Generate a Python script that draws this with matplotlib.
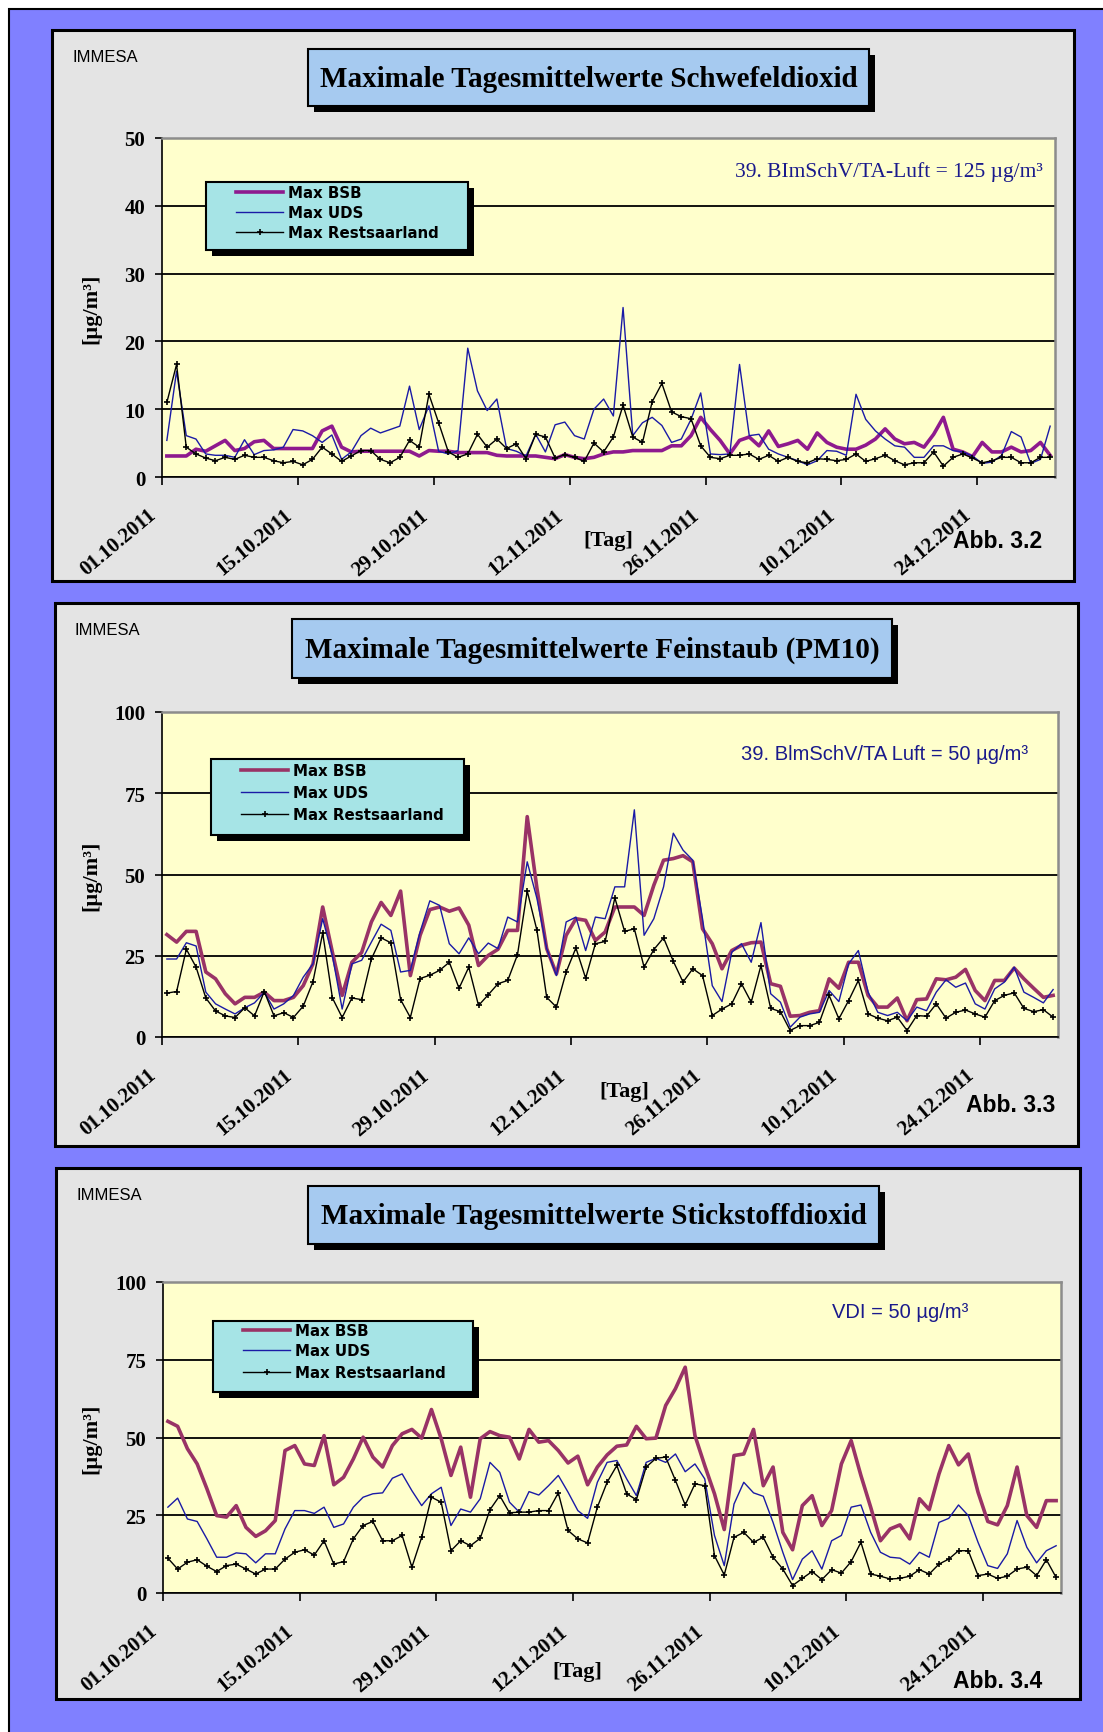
import numpy as np
import matplotlib
matplotlib.use("Agg")
import matplotlib.pyplot as plt
from matplotlib.patches import Rectangle
from matplotlib.lines import Line2D
from matplotlib.font_manager import FontProperties
from matplotlib.transforms import ScaledTranslation

W, H = 1103, 1733

# one value per day, 01.10.2011 - 31.12.2011, labels every 14 days
date_labels = ["01.10.2011", "15.10.2011", "29.10.2011", "12.11.2011",
               "26.11.2011", "10.12.2011", "24.12.2011"]
series_names = ["Max BSB", "Max UDS", "Max Restsaarland"]
days = np.arange(92)

so2_bsb = [3.1, 3.1, 3.1, 4.1, 3.8, 4.6, 5.4, 3.9, 4.2, 5.2,
           5.4, 4.2, 4.2, 4.2, 4.2, 4.2, 6.8, 7.5, 4.4, 3.7,
           3.8, 3.8, 3.8, 3.8, 3.8, 3.8, 3.1, 3.9, 3.8, 3.8,
           3.6, 3.6, 3.6, 3.6, 3.2, 3.1, 3.1, 3.1, 3.1, 2.9,
           2.7, 3.3, 2.9, 2.7, 2.9, 3.4, 3.7, 3.7, 3.9, 3.9,
           3.9, 3.9, 4.6, 4.6, 6.1, 8.8, 7.0, 5.4, 3.4, 5.4,
           5.9, 4.6, 6.8, 4.5, 4.9, 5.4, 4.1, 6.5, 5.1, 4.4,
           4.1, 4.1, 4.7, 5.6, 7.1, 5.6, 4.9, 5.1, 4.4, 6.3,
           8.8, 4.1, 3.7, 3.0, 5.1, 3.7, 3.7, 4.4, 3.7, 3.9,
           5.1, 3.2]
so2_uds = [5.4, 15.6, 6.1, 5.6, 3.4, 3.2, 3.2, 2.9, 5.5, 3.3,
           3.9, 4.0, 4.4, 7.0, 6.8, 6.1, 5.1, 6.2, 2.6, 3.7,
           6.1, 7.2, 6.5, 7.0, 7.5, 13.4, 7.0, 10.5, 3.8, 3.4,
           3.9, 19.0, 12.7, 9.8, 11.5, 4.2, 3.8, 3.1, 6.3, 3.7,
           7.7, 8.1, 6.1, 5.6, 10.0, 11.5, 9.0, 25.0, 6.1, 8.0,
           8.8, 7.6, 5.1, 5.6, 8.5, 12.4, 3.4, 3.3, 3.4, 16.6,
           6.1, 6.3, 4.1, 3.4, 2.9, 2.4, 1.8, 2.4, 3.9, 3.8,
           3.2, 12.2, 8.5, 6.8, 5.6, 4.6, 4.4, 2.9, 2.9, 4.6,
           4.6, 3.9, 3.7, 3.1, 2.0, 2.2, 3.2, 6.7, 5.9, 2.0,
           2.6, 7.5]
so2_rest = [11.0, 16.6, 4.4, 3.4, 2.8, 2.4, 2.9, 2.6, 3.2, 2.9,
            2.9, 2.4, 2.1, 2.3, 1.8, 2.6, 4.4, 3.4, 2.3, 3.1,
            3.9, 3.9, 2.6, 2.1, 2.9, 5.4, 4.4, 12.2, 8.0, 3.7,
            2.9, 3.4, 6.3, 4.4, 5.6, 4.2, 4.9, 2.7, 6.3, 5.9,
            2.8, 3.3, 2.9, 2.3, 5.0, 3.7, 5.9, 10.6, 5.9, 5.1,
            11.1, 13.8, 9.6, 8.9, 8.6, 4.6, 2.9, 2.7, 3.2, 3.2,
            3.4, 2.6, 3.2, 2.3, 2.9, 2.3, 2.1, 2.7, 2.6, 2.4,
            2.6, 3.4, 2.3, 2.7, 3.2, 2.4, 1.8, 2.1, 2.1, 3.7,
            1.6, 2.9, 3.4, 2.8, 2.1, 2.4, 2.9, 2.9, 2.1, 2.1,
            2.9, 2.9]

pm10_bsb = [31.5, 29.2, 32.5, 32.5, 20.0, 17.9, 13.3, 10.2, 12.2, 12.2,
            13.8, 11.2, 11.2, 12.2, 15.8, 22.5, 40.0, 26.0, 12.8, 23.0,
            26.0, 35.4, 41.4, 37.4, 44.9, 18.9, 31.3, 39.2, 40.0, 38.7,
            39.7, 34.4, 22.0, 25.1, 27.0, 32.8, 32.8, 67.8, 45.7, 27.2,
            19.4, 31.3, 36.4, 35.9, 29.7, 32.3, 40.0, 40.0, 40.0, 37.4,
            46.7, 54.4, 54.9, 55.8, 53.9, 33.3, 28.7, 21.0, 26.6, 28.2,
            29.0, 29.2, 16.4, 15.6, 6.4, 6.6, 7.6, 8.1, 17.9, 15.0,
            23.0, 23.0, 12.8, 9.2, 9.2, 12.0, 5.0, 11.5, 11.7, 17.9,
            17.6, 18.4, 20.8, 14.3, 11.2, 17.4, 17.4, 21.2, 17.9, 15.0,
            12.2, 12.8]
pm10_uds = [24.0, 24.0, 29.0, 28.0, 13.8, 10.2, 8.6, 7.1, 9.0, 10.5,
            13.8, 8.6, 10.2, 12.8, 18.4, 22.5, 36.4, 25.0, 8.6, 22.5,
            23.6, 29.2, 34.7, 32.8, 20.0, 20.5, 32.3, 41.9, 40.5, 28.7,
            25.6, 30.5, 25.6, 28.9, 27.2, 36.9, 35.4, 53.9, 42.6, 27.2,
            18.9, 35.4, 36.9, 26.6, 36.9, 36.4, 46.2, 46.2, 69.9, 31.3,
            36.4, 46.2, 62.7, 57.5, 54.4, 36.4, 15.8, 10.9, 26.1, 28.7,
            23.0, 35.2, 13.3, 10.7, 3.0, 6.1, 7.1, 7.6, 14.3, 10.9,
            22.5, 26.6, 13.8, 7.6, 6.6, 7.6, 5.0, 9.2, 8.1, 13.8,
            17.6, 15.3, 16.6, 10.2, 8.6, 14.8, 16.9, 21.5, 13.8, 12.2,
            10.5, 14.6]
pm10_rest = [13.5, 14.0, 27.0, 21.5, 12.0, 8.0, 6.5, 6.0, 9.0, 6.5,
             14.0, 6.5, 7.5, 6.0, 9.5, 17.0, 32.0, 12.0, 6.0, 12.0,
             11.5, 24.0, 30.5, 29.0, 11.5, 6.0, 18.0, 19.0, 20.5, 23.0,
             15.0, 21.5, 9.7, 13.0, 16.4, 17.4, 25.3, 44.9, 32.8, 12.2,
             9.2, 20.0, 27.4, 18.1, 28.7, 29.4, 42.8, 32.5, 33.3, 21.5,
             26.9, 30.5, 23.3, 16.9, 21.0, 18.9, 6.6, 8.6, 10.2, 16.4,
             10.7, 22.0, 8.8, 7.8, 2.0, 3.5, 3.5, 4.5, 12.8, 5.6,
             11.2, 17.4, 7.1, 5.8, 5.0, 6.1, 2.0, 6.6, 6.4, 10.2,
             5.8, 7.6, 8.3, 7.1, 6.1, 11.2, 12.8, 13.6, 8.8, 7.8,
             8.4, 6.1]

no2_bsb = [55.2, 53.6, 46.4, 41.5, 33.5, 24.9, 24.4, 28.1, 21.1, 18.2,
           20.0, 23.3, 45.8, 47.4, 41.5, 41.0, 50.6, 34.8, 37.2, 43.1,
           50.1, 43.7, 40.5, 47.4, 51.2, 52.6, 49.8, 59.0, 49.6, 37.8,
           46.9, 30.8, 49.6, 51.9, 50.6, 50.1, 43.1, 52.6, 48.5, 49.0,
           45.8, 41.8, 44.0, 34.8, 40.5, 44.4, 47.2, 47.6, 53.6, 49.6,
           49.8, 60.3, 65.7, 72.6, 50.6, 41.0, 31.9, 20.4, 44.2, 44.7,
           52.6, 34.5, 40.5, 19.5, 13.9, 28.1, 31.3, 21.7, 26.5, 41.5,
           49.0, 37.8, 27.6, 16.8, 20.6, 21.9, 17.4, 30.3, 26.8, 38.3,
           47.4, 41.2, 44.7, 32.4, 23.0, 21.9, 28.1, 40.5, 24.9, 21.1,
           29.7, 29.7]
no2_uds = [27.6, 30.5, 23.8, 23.0, 17.4, 11.5, 11.5, 12.9, 12.6, 9.7,
           12.6, 12.6, 20.6, 26.5, 26.5, 25.6, 27.6, 21.1, 22.2, 27.6,
           30.8, 31.9, 32.2, 36.9, 38.3, 32.9, 28.1, 31.9, 34.0, 21.7,
           27.0, 26.0, 30.3, 42.0, 38.8, 29.2, 26.0, 32.6, 31.5, 34.5,
           37.8, 32.4, 26.5, 24.0, 35.6, 42.0, 42.6, 36.7, 31.3, 42.0,
           43.3, 42.0, 44.7, 39.0, 41.5, 36.7, 18.5, 8.8, 28.6, 35.6,
           32.2, 31.1, 22.7, 13.1, 4.3, 10.9, 13.6, 7.7, 16.8, 18.5,
           27.6, 28.3, 19.5, 13.1, 11.5, 11.2, 9.3, 13.1, 11.5, 22.7,
           24.0, 28.3, 24.9, 16.3, 8.8, 7.9, 12.6, 23.3, 14.7, 9.7,
           13.6, 15.2]
no2_rest = [11.2, 7.7, 9.9, 10.7, 8.6, 6.9, 8.8, 9.3, 7.7, 6.1,
            7.7, 7.7, 10.9, 13.1, 13.9, 12.2, 16.8, 9.3, 10.1, 17.4,
            21.7, 23.0, 16.8, 16.8, 18.5, 8.3, 17.9, 30.8, 29.2, 13.6,
            16.8, 15.2, 17.6, 26.8, 31.3, 25.8, 26.0, 26.0, 26.5, 26.5,
            32.2, 20.1, 17.4, 16.1, 27.6, 35.6, 41.0, 31.9, 30.0, 40.5,
            43.3, 43.7, 36.2, 28.3, 35.1, 34.5, 12.0, 5.8, 17.9, 19.5,
            16.3, 17.9, 11.5, 7.7, 2.4, 4.7, 6.9, 4.3, 7.5, 6.4,
            10.1, 16.3, 6.1, 5.4, 4.5, 4.7, 5.4, 7.5, 6.1, 9.3,
            10.9, 13.6, 13.6, 5.6, 6.1, 4.7, 5.4, 7.7, 8.3, 5.6,
            10.7, 5.0]

SERIF = ["Liberation Serif", "DejaVu Serif"]
SANS = ["Liberation Sans", "DejaVu Sans"]
NOTE_BLUE = "#1a1a8c"

fig = plt.figure(figsize=(W / 100, H / 100), dpi=100)
fig.patch.set_facecolor("white")

# background axes in pixel coordinates (y downwards)
bg = fig.add_axes([0, 0, 1, 1], zorder=0)
bg.set_xlim(0, W)
bg.set_ylim(H, 0)
bg.axis("off")
bg.add_patch(Rectangle((9, 10), W, H, fc="#8080ff", ec="black", lw=1.5))


def shadow_box(x0, y0, x1, y1, fc, z):
    for r in [Rectangle((x0 + 6, y0 + 6), x1 - x0, y1 - y0, fc="black", lw=0),
              Rectangle((x0, y0), x1 - x0, y1 - y0, fc=fc, ec="black", lw=1.5)]:
        r.set_transform(bg.transData)
        r.set_zorder(z)
        fig.add_artist(r)


def chart(panel, area, title_box, title, bsb, uds, rest, bsb_color, ymax, ystep,
          note, note_xy, note_font, legend_box, legend_rows, tag_xy, abb, abb_xy):
    x0, y0, x1, y1 = panel
    bg.add_patch(Rectangle((x0, y0), x1 - x0, y1 - y0, fc="#e4e4e4", ec="black", lw=2.2))

    # title box with shadow
    tx0, ty0, tx1, ty1 = title_box
    shadow_box(tx0, ty0, tx1, ty1, "#a6caf0", 0.5)
    fig.text((tx0 + tx1) / 2, (ty0 + ty1) / 2 + 1, title, transform=bg.transData,
             ha="center", va="center", family=SERIF, weight="bold", size=21, zorder=0.6)
    bg.text(x0 + 20, y0 + 26, "IMMESA", ha="left", va="center", family=SANS, size=12)

    ax0, ay0, ax1, ay1 = area
    ax = fig.add_axes([ax0 / W, 1 - ay1 / H, (ax1 - ax0) / W, (ay1 - ay0) / H], zorder=1)
    ax.set_facecolor("#ffffcc")
    l1, = ax.plot(days, bsb, color=bsb_color, lw=2.6, label=series_names[0])
    l2, = ax.plot(days, uds, color="#1a1aa6", lw=1.0, label=series_names[1])
    l3, = ax.plot(days, rest, color="black", lw=1.0, marker="+", ms=5, mew=1.2,
                  label=series_names[2])

    ax.set_xlim(-0.5, 91.5)
    ax.set_ylim(0, ymax)
    ax.set_yticks(np.arange(0, ymax + 1, ystep))
    ax.yaxis.grid(True, color="black", lw=1.3)
    ax.set_axisbelow(True)
    ax.set_xticks(np.arange(len(date_labels)) * 14 - 0.5)
    ax.set_xticklabels(date_labels, rotation=40, ha="right", va="top", rotation_mode="anchor")
    ax.tick_params(axis="x", direction="out", length=6, width=1.2, pad=14)
    ax.tick_params(axis="y", direction="out", length=5, width=1.2, pad=7)
    tick_font = FontProperties(family=SERIF, weight="bold", size=15)
    shift = ScaledTranslation(-0.15, 0.0, fig.dpi_scale_trans)
    for lbl in ax.get_xticklabels():
        lbl.set_fontproperties(tick_font)
        lbl.set_transform(lbl.get_transform() + shift)
    for lbl in ax.get_yticklabels():
        lbl.set_fontproperties(tick_font)
    for side in ["left", "bottom"]:
        ax.spines[side].set_color("black")
        ax.spines[side].set_linewidth(1.2)
    for side in ["top", "right"]:
        ax.spines[side].set_color("#8c8c8c")
        ax.spines[side].set_linewidth(1.8)

    ax.set_ylabel("[µg/m³]", fontproperties=FontProperties(family=SERIF, weight="bold", size=16))
    ax.yaxis.set_label_coords((91 - ax0) / (ax1 - ax0), 0.5)
    ax.yaxis.label.set_verticalalignment("center")

    fig.text(note_xy[0], note_xy[1], note, transform=bg.transData, ha="right", va="center",
             color=NOTE_BLUE, family=note_font[0], size=note_font[1], zorder=2)

    # legend box with shadow
    lx0, ly0, lx1, ly1 = legend_box
    shadow_box(lx0, ly0, lx1, ly1, "#a6e4e6", 3)
    for line, ry in zip([l1, l2, l3], legend_rows):
        sample = Line2D([lx0 + 30, lx0 + 53.5, lx0 + 77], [ly0 + ry] * 3,
                        color=line.get_color(), lw=line.get_linewidth(),
                        marker=line.get_marker(), ms=line.get_markersize(),
                        mew=line.get_markeredgewidth(), markevery=[1],
                        transform=bg.transData, zorder=4)
        fig.add_artist(sample)
        fig.text(lx0 + 82, ly0 + ry, line.get_label(), transform=bg.transData,
                 ha="left", va="center", family="DejaVu Sans", weight="bold", size=10.8, zorder=4)

    bg.text(tag_xy[0], tag_xy[1], "[Tag]", ha="center", va="center",
            family=SERIF, weight="bold", size=16, zorder=3)
    bg.text(abb_xy[0], abb_xy[1], abb, ha="center", va="center",
            family=SANS, weight="bold", size=16.5, zorder=3)


chart((52, 31, 1074, 582), (162, 139, 1055, 478), (308, 50, 869, 107),
      "Maximale Tagesmittelwerte Schwefeldioxid",
      so2_bsb, so2_uds, so2_rest, "#8e1a8e", 50, 10,
      "39. BImSchV/TA-Luft = 125 µg/m³", (1043, 172), (SERIF, 15.5),
      (206, 183, 468, 251), [10, 30, 50], (608, 541), "Abb. 3.2", (998, 541))

chart((55, 604, 1078, 1147), (162, 713, 1058, 1038), (292, 620, 892, 679),
      "Maximale Tagesmittelwerte Feinstaub (PM10)",
      pm10_bsb, pm10_uds, pm10_rest, "#993366", 100, 25,
      "39. BlmSchV/TA Luft = 50 µg/m³", (1028, 754), (SANS, 14.5),
      (211, 760, 464, 836), [11, 33, 55], (624, 1092), "Abb. 3.3", (1011, 1105))

chart((56, 1169, 1080, 1700), (163, 1283, 1061, 1594), (308, 1187, 879, 1245),
      "Maximale Tagesmittelwerte Stickstoffdioxid",
      no2_bsb, no2_uds, no2_rest, "#993366", 100, 25,
      "VDI = 50 µg/m³", (968, 1313), (SANS, 14.5),
      (213, 1322, 473, 1393), [9, 29, 51], (577, 1672), "Abb. 3.4", (998, 1682))

plt.savefig("out.png", dpi=100)
